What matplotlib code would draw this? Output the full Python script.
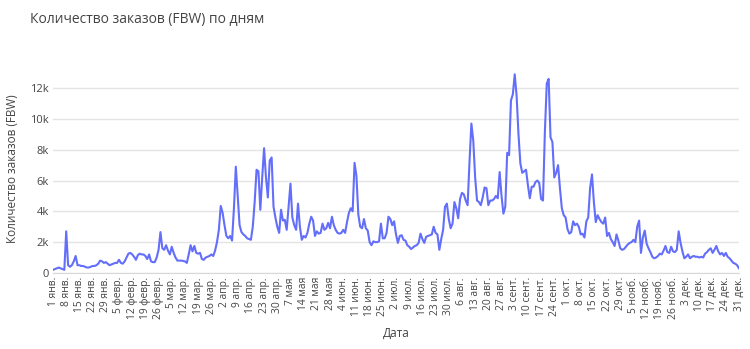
import datetime as dt

import matplotlib.pyplot as plt
import matplotlib.ticker as mticker

# daily orders, thousands, one list per month (non-leap year)
jan = [0.20, 0.25, 0.30, 0.35, 0.30, 0.25, 0.20, 2.70, 0.50, 0.40, 0.50, 0.75, 1.10, 0.50, 0.50, 0.45,
       0.45, 0.40, 0.35, 0.35, 0.40, 0.45, 0.45, 0.50, 0.60, 0.80, 0.75, 0.65, 0.70, 0.60, 0.50]
feb = [0.55, 0.60, 0.65, 0.65, 0.85, 0.65, 0.60, 0.75, 1.00, 1.25, 1.30, 1.20, 1.05, 0.85, 1.15, 1.25,
       1.20, 1.20, 1.10, 0.90, 1.20, 0.75, 0.70, 0.70, 1.00, 1.50, 2.65, 1.60]
mar = [1.50, 1.80, 1.45, 1.20, 1.70, 1.30, 1.00, 0.80, 0.80, 0.80, 0.78, 0.75, 0.65, 1.20, 1.80, 1.40,
       1.75, 1.30, 1.25, 1.30, 0.90, 0.85, 1.00, 1.05, 1.10, 1.20, 1.10, 1.45, 2.00, 2.80, 4.35]
apr = [3.90, 3.10, 2.40, 2.25, 2.40, 2.10, 4.20, 6.90, 5.00, 3.10, 2.65, 2.50, 2.40, 2.25, 2.20, 2.15,
       3.00, 4.60, 6.70, 6.60, 4.10, 6.20, 8.10, 6.20, 4.90, 7.30, 7.50, 4.30, 3.60, 3.00]
may = [2.60, 4.10, 3.40, 3.45, 2.80, 4.30, 5.80, 3.60, 3.10, 2.80, 4.50, 3.00, 2.15, 2.40, 2.30, 2.60,
       3.20, 3.65, 3.40, 2.40, 2.70, 2.55, 2.60, 3.20, 2.80, 2.90, 3.25, 2.90, 3.65, 3.10, 2.80]
jun = [2.60, 2.55, 2.60, 2.80, 2.60, 3.30, 3.90, 4.20, 4.00, 7.15, 6.30, 3.80, 3.00, 2.90, 3.50, 2.90,
       2.75, 2.00, 1.80, 2.05, 2.00, 2.00, 2.05, 3.20, 2.25, 2.25, 2.60, 3.65, 3.50, 3.10]
jul = [3.35, 2.50, 1.95, 2.40, 2.45, 2.15, 2.10, 1.80, 1.70, 1.55, 1.65, 1.75, 1.80, 1.95, 2.55, 2.20,
       1.95, 2.35, 2.40, 2.45, 2.50, 3.00, 2.60, 2.50, 1.50, 2.20, 2.80, 4.30, 4.50, 3.50, 2.90]
aug = [3.20, 4.60, 4.20, 3.55, 4.80, 5.20, 5.10, 4.70, 4.40, 7.20, 9.70, 8.60, 6.20, 4.70, 4.60, 4.40,
       4.90, 5.55, 5.50, 4.40, 4.70, 4.70, 4.80, 5.00, 4.85, 6.55, 5.00, 3.85, 4.30, 7.80, 7.65]
sep = [11.20, 11.60, 12.90, 11.50, 9.00, 7.10, 6.50, 6.60, 6.70, 5.70, 4.85, 5.60, 5.60, 5.90, 6.00, 5.85,
       4.80, 4.70, 9.15, 12.30, 12.60, 8.80, 8.50, 6.20, 6.50, 7.00, 5.50, 4.20, 3.75, 3.60]
oct = [2.85, 2.55, 2.65, 3.35, 3.10, 3.20, 3.00, 2.50, 2.55, 2.30, 3.35, 3.60, 5.50, 6.40, 4.60, 3.30,
       3.75, 3.50, 3.30, 3.20, 3.60, 2.40, 2.60, 2.20, 2.00, 1.75, 2.50, 2.10, 1.60, 1.50, 1.55]
nov = [1.70, 1.85, 1.95, 2.00, 2.15, 2.00, 3.00, 3.40, 1.30, 2.30, 2.75, 1.90, 1.60, 1.35, 1.05, 0.95,
       1.00, 1.10, 1.25, 1.20, 1.45, 1.75, 1.35, 1.30, 1.70, 1.40, 1.35, 1.50, 2.70, 1.95]
dec = [1.40, 0.95, 1.05, 1.20, 0.95, 1.05, 1.10, 1.05, 1.05, 1.00, 1.05, 1.00, 1.25, 1.35, 1.50, 1.60,
       1.30, 1.50, 1.75, 1.40, 1.20, 1.30, 1.10, 1.30, 1.05, 0.95, 0.80, 0.65, 0.60, 0.50, 0.30]

month_abbr = ['янв.', 'февр.', 'мар.', 'апр.', 'мая', 'июн.',
              'июл.', 'авг.', 'сент.', 'окт.', 'нояб.', 'дек.']

orders = [v * 1000 for m in (jan, feb, mar, apr, may, jun, jul, aug, sep, oct, nov, dec) for v in m]
start = dt.date(2023, 1, 1)
dates = [start + dt.timedelta(days=i) for i in range(len(orders))]

tick_dates = dates[::7]
tick_labels = [f'{d.day} {month_abbr[d.month - 1]}' for d in tick_dates]

plt.rcParams['font.family'] = ['Open Sans', 'DejaVu Sans']
txt = '#444444'
grid = '#E4E4E4'

fig = plt.figure(figsize=(7.5, 3.49), dpi=100)
ax = fig.add_axes([0.0707, 0.218, 0.9146, 0.6])

ax.plot(dates, orders, color='#636EFA', lw=1.5)

ax.set_xlim(dates[0], dates[-1])
ax.set_ylim(0, 13600)
ax.set_yticks(range(0, 13000, 2000))
ax.yaxis.set_major_formatter(mticker.FuncFormatter(lambda v, p: '0' if v == 0 else f'{int(v / 1000)}k'))
ax.set_xticks(tick_dates)
ax.set_xticklabels(tick_labels, rotation=90)

ax.grid(axis='y', color=grid, lw=1)
ax.set_axisbelow(True)
for s in ('top', 'right', 'left'):
    ax.spines[s].set_visible(False)
ax.spines['bottom'].set_color('#D8D8D8')
ax.tick_params(axis='y', length=0, labelsize=8, colors=txt, pad=3)
ax.tick_params(axis='x', length=0, labelsize=7.4, colors=txt, pad=3)

ax.set_xlabel('Дата', fontsize=8.5, color=txt)
ax.xaxis.set_label_coords(0.5, -0.287)
ax.xaxis.label.set_va('center')
ax.set_ylabel('Количество заказов (FBW)', fontsize=8.5, color=txt, labelpad=8)
fig.text(0.04, 0.935, 'Количество заказов (FBW) по дням', fontsize=10, color=txt)

fig.savefig('out.png', dpi=100)
